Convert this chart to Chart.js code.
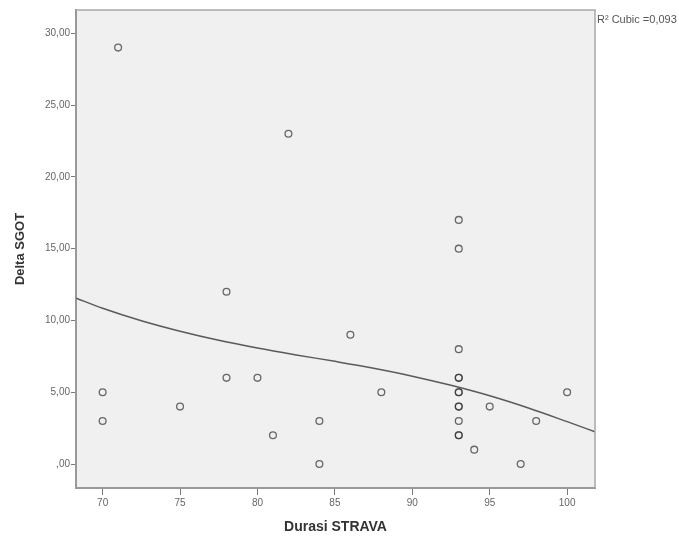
<!DOCTYPE html>
<html>
<head>
<meta charset="utf-8">
<script src="https://cdn.jsdelivr.net/npm/chart.js@4/dist/chart.umd.min.js"></script>
<style>
  html, body { margin: 0; padding: 0; background: #fff; }
  #wrap { width: 679px; height: 539px; }
</style>
</head>
<body>
<div id="wrap"><canvas id="scatter"></canvas></div>
<script>
// observed cases: Durasi STRAVA vs Delta SGOT
var durasi = [71, 82, 93, 93, 78, 86, 93, 70, 70, 75, 78, 80, 81, 84, 84, 88, 93, 93, 93, 93, 93, 93, 93, 93, 93, 94, 95, 97, 98, 100];
var deltaSgot = [29, 23, 17, 15, 12, 9, 8, 5, 3, 4, 6, 6, 2, 3, 0, 5, 6, 6, 5, 5, 4, 4, 3, 2, 2, 1, 4, 0, 3, 5];

// cubic fit line
var fitX = [68.3, 70, 72.5, 75, 77.5, 80, 82.5, 85, 87.5, 90, 92.5, 95, 97.5, 100, 101.8];
var fitY = [11.55, 10.85, 9.98, 9.25, 8.62, 8.08, 7.6, 7.15, 6.67, 6.12, 5.48, 4.75, 3.9, 2.95, 2.25];

var xTicks = [70, 75, 80, 85, 90, 95, 100];
var yTicks = [0, 5, 10, 15, 20, 25, 30];
var fitLabel = 'R\u00B2 Cubic =0,093';

var points = durasi.map(function(d, i) { return {x: d, y: deltaSgot[i]}; });
var fit = fitX.map(function(d, i) { return {x: d, y: fitY[i]}; });

var plotBg = {
    id: 'plotBg',
    beforeDraw: function(chart) {
        var a = chart.chartArea, ctx = chart.ctx;
        ctx.save();
        ctx.fillStyle = '#f0f0f0';
        ctx.fillRect(a.left, a.top, a.right - a.left, a.bottom - a.top);
        ctx.restore();
    },
    afterDraw: function(chart) {
        var a = chart.chartArea, ctx = chart.ctx;
        ctx.save();
        ctx.strokeStyle = '#a8a8a8';
        ctx.lineWidth = 1.5;
        ctx.beginPath();
        ctx.moveTo(a.left, a.top);
        ctx.lineTo(a.right, a.top);
        ctx.lineTo(a.right, a.bottom);
        ctx.stroke();
        ctx.fillStyle = '#555';
        ctx.font = '11px "Liberation Sans", Arial, sans-serif';
        ctx.textBaseline = 'middle';
        ctx.fillText(fitLabel, a.right + 2, 20);
        ctx.restore();
    }
};

new Chart(document.getElementById('scatter'), {
    type: 'scatter',
    data: {
        datasets: [{
            label: 'cases',
            data: points,
            pointRadius: 3.4,
            pointBorderWidth: 1.3,
            pointBackgroundColor: 'rgba(0,0,0,0)',
            pointBorderColor: 'rgba(50,50,50,0.72)'
        }, {
            label: 'cubic',
            data: fit,
            showLine: true,
            pointRadius: 0,
            borderColor: '#5a5a5a',
            borderWidth: 1.5,
            cubicInterpolationMode: 'monotone'
        }]
    },
    options: {
        responsive: true,
        maintainAspectRatio: false,
        animation: false,
        events: [],
        layout: { padding: { left: 0, top: 10, right: 84, bottom: 0 } },
        plugins: { legend: { display: false }, tooltip: { enabled: false } },
        scales: {
            x: {
                type: 'linear',
                min: 68.28,
                max: 101.8,
                afterBuildTicks: function(scale) {
                    scale.ticks = xTicks.map(function(v) { return {value: v}; });
                },
                afterFit: function(scale) { scale.height = 51; },
                grid: { drawOnChartArea: false, drawTicks: true, tickLength: 7, tickColor: '#777' },
                border: { display: true, color: '#999', width: 2 },
                ticks: {
                    color: '#666',
                    padding: 2,
                    maxRotation: 0,
                    font: { family: '"Liberation Sans", Arial, sans-serif', size: 10 }
                },
                title: {
                    display: true,
                    text: 'Durasi STRAVA',
                    color: '#333',
                    padding: { top: 3, bottom: 3 },
                    font: { family: '"Liberation Sans", Arial, sans-serif', size: 14, weight: 'bold' }
                }
            },
            y: {
                type: 'linear',
                min: -1.67,
                max: 31.62,
                afterBuildTicks: function(scale) {
                    scale.ticks = yTicks.map(function(v) { return {value: v}; });
                },
                afterFit: function(scale) { scale.width = 76; },
                grid: { drawOnChartArea: false, drawTicks: true, tickLength: 5, tickColor: '#777' },
                border: { display: true, color: '#999', width: 2 },
                ticks: {
                    color: '#666',
                    padding: 1,
                    font: { family: '"Liberation Sans", Arial, sans-serif', size: 10 },
                    callback: function(v) {
                        return v === 0 ? ',00' : v.toFixed(2).replace('.', ',');
                    }
                },
                title: {
                    display: true,
                    text: 'Delta SGOT',
                    color: '#333',
                    padding: { top: 13, bottom: 13 },
                    font: { family: '"Liberation Sans", Arial, sans-serif', size: 13, weight: 'bold' }
                }
            }
        }
    },
    plugins: [plotBg]
});
</script>
</body>
</html>
